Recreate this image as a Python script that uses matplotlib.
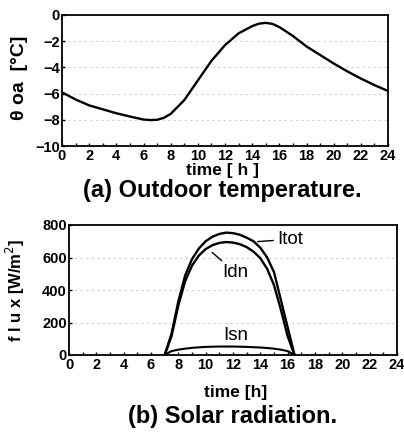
import matplotlib
matplotlib.use("Agg")
import matplotlib.pyplot as plt
from matplotlib.ticker import MultipleLocator
from matplotlib.font_manager import FontProperties

# ---- data ----
t_temp = [0, 1, 2, 3, 4, 5, 6, 6.5, 7, 7.5, 8, 9, 10, 11, 12, 13, 14, 14.5, 15, 15.5, 16, 17, 18, 19, 20, 21, 22, 23, 24]
theta_oa = [-5.9, -6.45, -6.9, -7.2, -7.5, -7.75, -7.98, -8.02, -8.0, -7.85, -7.55, -6.5, -5.0, -3.5, -2.3, -1.4, -0.85, -0.66, -0.6, -0.68, -0.92, -1.6, -2.4, -3.05, -3.7, -4.3, -4.85, -5.35, -5.8]

t_sol = [7.0, 7.5, 8.0, 8.5, 9.0, 9.5, 10.0, 10.5, 11.0, 11.5, 12.0, 12.5, 13.0, 13.5, 14.0, 14.5, 15.0, 15.5, 16.0, 16.5]
I_tot = [0, 130, 330, 490, 590, 655, 700, 728, 745, 753, 750, 740, 722, 700, 660, 600, 510, 340, 170, 0]
I_dn = [0, 115, 305, 455, 550, 612, 652, 676, 690, 695, 692, 682, 664, 636, 596, 530, 430, 280, 115, 0]
I_sn = [0, 24, 33, 39, 44, 47, 50, 51, 52, 52, 52, 51, 50, 48, 46, 43, 39, 33, 24, 0]

x_ticks = list(range(0, 25, 2))
temp_ticks = [0, -2, -4, -6, -8, -10]
flux_ticks = [0, 200, 400, 600, 800]

FAM = ["Liberation Sans", "DejaVu Sans"]
tick_fp = FontProperties(family=FAM, weight="bold", size=10.5)
cap_font = dict(family=FAM, size=17, weight="bold")
ann_font = dict(family=FAM, size=13.5)

fig = plt.figure(figsize=(4.04, 4.34), dpi=100)
fig.patch.set_facecolor("white")

def style_axes(ax, yticks):
    ax.set_xlim(0, 24)
    ax.set_xticks(x_ticks)
    ax.set_yticks(yticks)
    ax.xaxis.set_minor_locator(MultipleLocator(1))
    ax.tick_params(which="both", direction="in", length=2.5, width=1)
    ax.tick_params(axis="x", pad=2.5)
    ax.tick_params(axis="y", pad=1.5)
    for lab in ax.get_xticklabels() + ax.get_yticklabels():
        lab.set_fontproperties(tick_fp)
    for s in ax.spines.values():
        s.set_linewidth(1.3)
    for y in sorted(yticks)[1:-1]:
        ax.axhline(y, color="#d0d0d0", lw=0.8, ls=(0, (2, 3)), zorder=0)

# ---- (a) outdoor temperature ----
ax1 = fig.add_axes([62/404, 1-146/434, 326/404, 131/434])
ax1.plot(t_temp, theta_oa, color="black", lw=1.7)
ax1.set_ylim(-10, 0)
style_axes(ax1, temp_ticks)
fig.text(19/404, 1-78/434, "θ oa  [°C]", rotation=90, ha="center", va="center",
         fontsize=14, fontweight="bold", family=FAM)
fig.text(222/404, 1-170/434, "time [ h ]", ha="center", va="center",
         family=FAM, weight="bold", size=12.5)
fig.text(222/404, 1-191/434, "(a) Outdoor temperature.", ha="center", va="center", **cap_font)

# ---- (b) solar radiation ----
ax2 = fig.add_axes([69/404, 1-355/434, 328/404, 130/434])
ax2.plot(t_sol, I_tot, color="black", lw=1.7)
ax2.plot(t_sol, I_dn, color="black", lw=1.7)
ax2.plot(t_sol, I_sn, color="black", lw=1.5)
ax2.set_ylim(0, 800)
style_axes(ax2, flux_ticks)
ax2.annotate("Itot", xy=(13.8, 698), xytext=(15.25, 712), ha="left", va="center",
             arrowprops=dict(arrowstyle="-", color="black", lw=1.0, shrinkA=1, shrinkB=0),
             **ann_font)
ax2.annotate("Idn", xy=(10.25, 648), xytext=(12.2, 505), ha="center", va="center",
             arrowprops=dict(arrowstyle="-", color="black", lw=1.0, shrinkA=1, shrinkB=3),
             **ann_font)
ax2.text(12.2, 122, "Isn", ha="center", va="center", **ann_font)
fig.text(15/404, 1-290/434, "f l u x [W/m$^2$]", rotation=90, ha="center", va="center",
         fontsize=12, fontweight="bold", family=FAM)
fig.text(236/404, 1-392/434, "time [h]", ha="center", va="center",
         family=FAM, weight="bold", size=12.5)
fig.text(233/404, 1-416/434, "(b) Solar radiation.", ha="center", va="center", **cap_font)

fig.savefig("out.png", dpi=100, facecolor="white")
